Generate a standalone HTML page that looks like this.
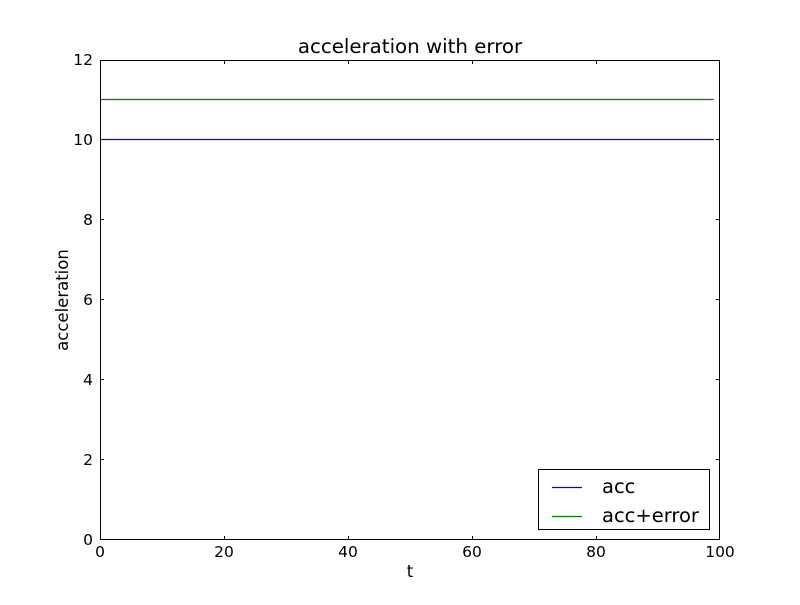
<!DOCTYPE html>
<html><head><meta charset="utf-8"><style>
body{margin:0;background:#fff;}
svg text{font-family:"DejaVu Sans","Liberation Sans",sans-serif;fill:#000;}
</style></head><body>
<svg id="chart" width="800" height="600" xmlns="http://www.w3.org/2000/svg">
<rect width="800" height="600" fill="#fff"/>
<text x="410" y="53" font-size="19.8" text-anchor="middle">acceleration with error</text>
<text x="410" y="577" font-size="16.5" text-anchor="middle">t</text>
<text transform="translate(68,300) rotate(-90)" font-size="16.5" text-anchor="middle">acceleration</text>
<g id="ticks"></g>
<g id="series"></g>
<rect x="100.5" y="60.5" width="619" height="479" fill="none" stroke="#000" stroke-width="1"/>
<g>
<rect x="538.5" y="469.5" width="171" height="60" fill="#fff" stroke="#000" stroke-width="1"/>
<line x1="552" y1="487.5" x2="582" y2="487.5" stroke="#0000ff" stroke-width="1.3"/>
<text x="602" y="493" font-size="19.5">acc</text>
<line x1="552" y1="516.5" x2="582" y2="516.5" stroke="#008000" stroke-width="1.3"/>
<text x="602" y="522" font-size="19.5">acc+error</text>
</g>
</svg>
<script>
const t = [0, 99];
const acc = [10, 10];
const accErr = [11, 11];
const xTicks = [0, 20, 40, 60, 80, 100];
const yTicks = [0, 2, 4, 6, 8, 10, 12];
const NS = "http://www.w3.org/2000/svg";
const X = v => 100 + v / 100 * 620;
const Y = v => 540 - v / 12 * 480;
function mk(tag, attrs, parent) {
  const e = document.createElementNS(NS, tag);
  for (const k in attrs) e.setAttribute(k, attrs[k]);
  parent.appendChild(e);
  return e;
}
const tg = document.getElementById('ticks');
xTicks.forEach(v => {
  const x = Math.min(X(v) + 0.5, 719.5);
  const a = mk('line', {x1: x, y1: 540, x2: x, y2: 536, stroke: '#000'}, tg);
  
  
  const b = mk('line', {x1: x, y1: 60, x2: x, y2: 64, stroke: '#000'}, tg);
  
  
  const tx = mk('text', {x: X(v), y: 557, 'font-size': 15.5, 'text-anchor': 'middle'}, tg);
  tx.textContent = v;
  
  
});
yTicks.forEach(v => {
  const y = Math.max(Y(v) - 0.5, 60.5);
  const a = mk('line', {x1: 100, y1: y, x2: 104, y2: y, stroke: '#000'}, tg);
  
  
  const b = mk('line', {x1: 720, y1: y, x2: 716, y2: y, stroke: '#000'}, tg);
  
  
  const tx = mk('text', {x: 93, y: Y(v) + 5, 'font-size': 15.5, 'text-anchor': 'end'}, tg);
  tx.textContent = v;
  
  
});
const sg = document.getElementById('series');
function pts(arr) { return arr.map((v, i) => X(t[i]) + ',' + (Y(v) - 0.5)).join(' '); }
const l1 = mk('polyline', {points: pts(acc), fill: 'none', stroke: '#0000ff', 'stroke-width': 1.3}, sg);


const l2 = mk('polyline', {points: pts(accErr), fill: 'none', stroke: '#008000', 'stroke-width': 1.3}, sg);


</script>
</body></html>
